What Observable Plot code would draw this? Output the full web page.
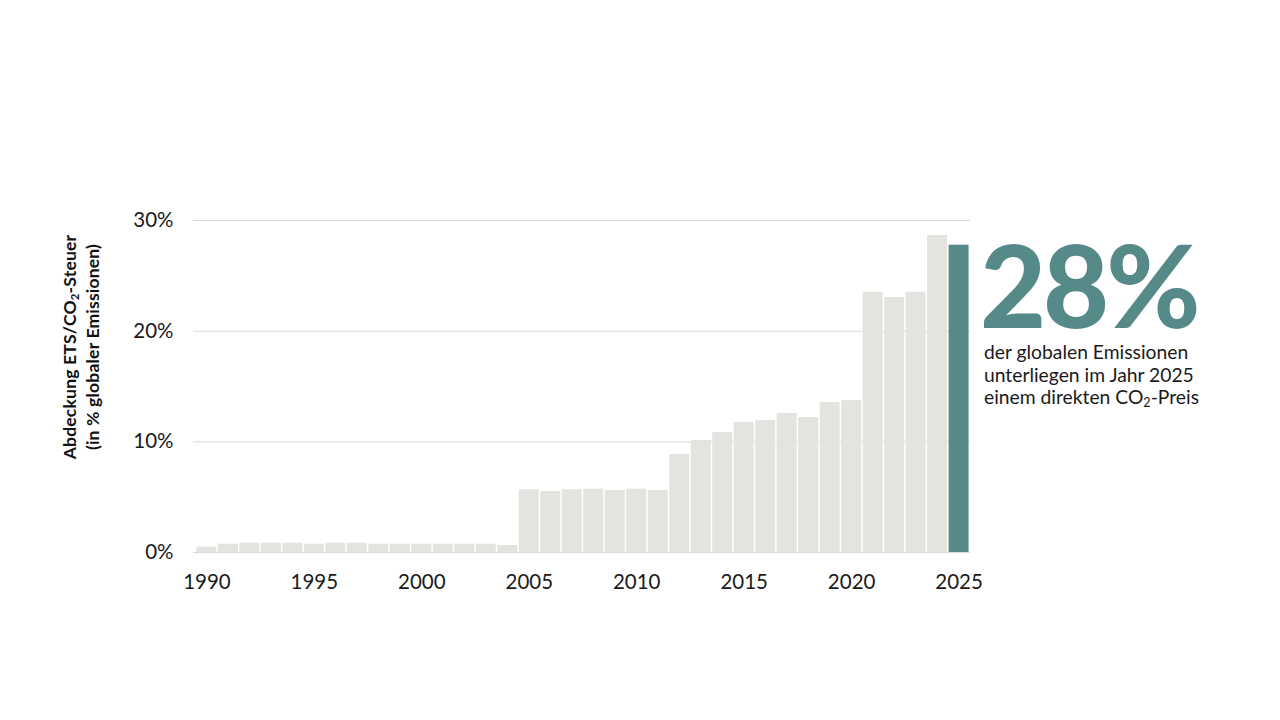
<!DOCTYPE html>
<html>
<head>
<meta charset="utf-8">
<script src="https://cdn.jsdelivr.net/npm/d3@7"></script>
<script src="https://cdn.jsdelivr.net/npm/@observablehq/plot@0.6"></script>
<style>
  html, body { margin: 0; padding: 0; background: #fff; }
  #wrap { position: relative; width: 1280px; height: 720px; font-family: Lato, "Open Sans", sans-serif; }
  #ylabel { position: absolute; left: 81px; top: 347px; transform: translate(-50%, -50%) rotate(-90deg);
    white-space: nowrap; text-align: center; font-weight: bold; font-size: 17.5px; line-height: 23px; color: #111; letter-spacing: 0.2px; }
  #big { position: absolute; left: 980px; top: 240px; font-weight: 900; font-size: 114px; line-height: 0.78; color: #568a89; letter-spacing: -3px; }
  #note { position: absolute; left: 984px; top: 341px; font-size: 19.3px; line-height: 22.5px; color: #1a1a1a; }
  sub { font-size: 0.65em; vertical-align: -0.25em; line-height: 0; }
</style>
</head>
<body>
<div id="wrap">
  <div id="chart"></div>
  <div id="ylabel">Abdeckung ETS/CO<sub>2</sub>-Steuer<br>(in % globaler Emissionen)</div>
  <div id="big">28%</div>
  <div id="note">der globalen Emissionen<br>unterliegen im Jahr 2025<br>einem direkten CO<sub>2</sub>-Preis</div>
</div>
<script>
const years = d3.range(1990, 2026);
const coverage = [0.48, 0.75, 0.84, 0.84, 0.84, 0.75, 0.84, 0.84, 0.75, 0.75, 0.75, 0.75, 0.75, 0.75, 0.63,
  5.67, 5.51, 5.67, 5.72, 5.60, 5.72, 5.60, 8.86, 10.12, 10.84, 11.75, 11.93, 12.56, 12.2, 13.55, 13.73,
  23.52, 23.04, 23.52, 28.64, 27.77];
const highlightYear = 2025;
const xTicks = [1990, 1995, 2000, 2005, 2010, 2015, 2020, 2025];
const yTicks = [0, 10, 20, 30];

const data = years.map((y, i) => ({year: y, value: coverage[i]}));

const chart = Plot.plot({
  width: 1280,
  height: 720,
  marginLeft: 196,
  marginRight: 311,
  marginTop: 220,
  marginBottom: 168,
  style: {fontFamily: "Lato, 'Open Sans', sans-serif", fontSize: "20px", color: "#1a1a1a", background: "#fff"},
  x: {type: "band", domain: years, round: false, paddingInner: 0.07, paddingOuter: 0.02, label: null},
  y: {domain: [0, 30], label: null},
  marks: [
    Plot.ruleY(yTicks, {stroke: "#d9d9d9", strokeWidth: 1, insetLeft: -3, insetRight: -1}),
    Plot.barY(data, {x: "year", y: "value", fill: d => d.year === highlightYear ? "#568a89" : "#e3e3df"}),
    Plot.axisX({ticks: xTicks, tickSize: 0, tickPadding: 22, fontSize: 20.5, tickFormat: d => String(d), label: null}),
    Plot.axisY({ticks: yTicks, tickSize: 0, tickPadding: 23, fontSize: 20.5, tickFormat: d => d + "%", label: null})
  ]
});
document.getElementById("chart").appendChild(chart);
</script>
</body>
</html>
